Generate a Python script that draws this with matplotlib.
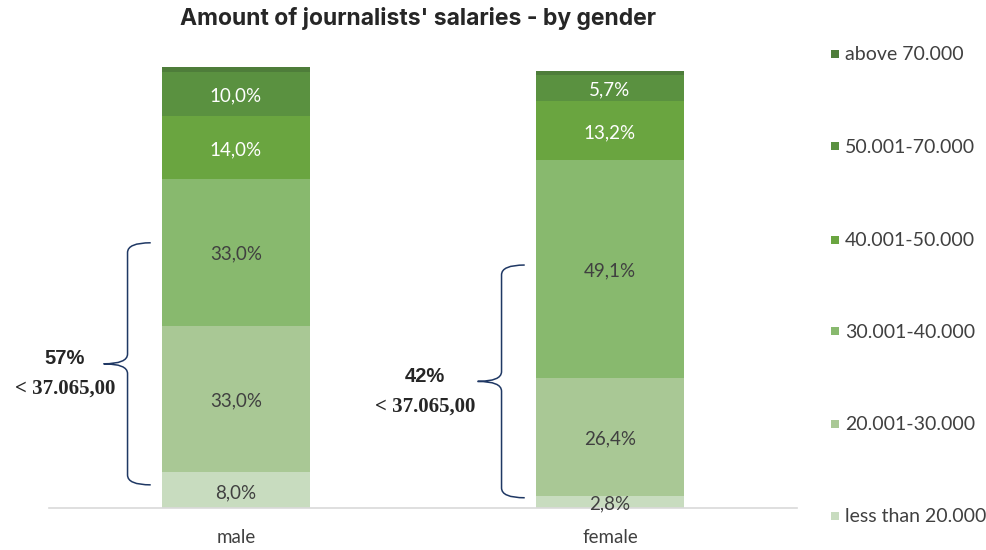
import matplotlib.pyplot as plt
from matplotlib.patches import Rectangle, PathPatch
from matplotlib.path import Path

genders = ["male", "female"]
bands = ["less than 20.000", "20.001-30.000", "30.001-40.000",
         "40.001-50.000", "50.001-70.000", "above 70.000"]
male = [8.0, 33.0, 33.0, 14.0, 10.0, 1.2]
female = [2.8, 26.4, 49.1, 13.2, 5.7, 1.0]
colors = ["#c8dcbf", "#a9c895", "#88b96e", "#6aa540", "#5a9140", "#4e7d3a"]
text_colors = ["#404040", "#404040", "#404040", "white", "white", None]

# brace annotations: (bar index, bottom, top, share text)
braces = [(0, 5.2, 59.6, "57%"), (1, 2.3, 54.6, "42%")]
threshold = "< 37.065,00"
brace_text_dx = [0.168, 0.205]

fig = plt.figure(figsize=(9.87, 5.5), dpi=100)
ax = fig.add_axes([49 / 987, 1 - 508 / 550, 748 / 987, 445 / 550])

values = [male, female]
x = [0, 1]
bottom = [0.0, 0.0]
for k, band in enumerate(bands):
    heights = [v[k] for v in values]
    ax.bar(x, heights, width=0.396, bottom=bottom, color=colors[k], linewidth=0)
    if text_colors[k]:
        for i in x:
            ax.text(i, bottom[i] + heights[i] / 2 - 0.5, f"{heights[i]:.1f}%".replace(".", ","),
                    ha="center", va="center", fontsize=13.5, family="Lato",
                    color=text_colors[k])
    bottom = [b + h for b, h in zip(bottom, heights)]

ax.set_xlim(-0.5, 1.5)
ax.set_ylim(0, 100)
ax.set_yticks([])
ax.set_xticks(x)
ax.set_xticklabels(genders, fontsize=13.5, family="Lato", color="#404040")
ax.tick_params(axis="x", length=0, pad=15)
for s in ["top", "right", "left"]:
    ax.spines[s].set_visible(False)
ax.spines["bottom"].set_color("#d9d9d9")
ax.spines["bottom"].set_linewidth(1.2)


def draw_brace(ax, xv, y0, y1, arm=0.062, tip=0.064, r=2.2):
    ym = (y0 + y1) / 2
    verts = [(xv + arm, y1), (xv, y1), (xv, y1 - r),
             (xv, ym + r),
             (xv, ym), (xv - tip, ym),
             (xv, ym), (xv, ym - r),
             (xv, y0 + r),
             (xv, y0), (xv + arm, y0)]
    codes = [Path.MOVETO, Path.CURVE3, Path.CURVE3,
             Path.LINETO,
             Path.CURVE3, Path.CURVE3,
             Path.CURVE3, Path.CURVE3,
             Path.LINETO,
             Path.CURVE3, Path.CURVE3]
    ax.add_patch(PathPatch(Path(verts, codes), fill=False, edgecolor="#1f3864",
                           linewidth=1.1, clip_on=False))
    return ym


for (i, y0, y1, share), dx in zip(braces, brace_text_dx):
    xv = i - 0.29
    ym = draw_brace(ax, xv, y0, y1)
    tx = xv - dx
    ax.text(tx, ym + 1.2, share, ha="center", va="center", fontsize=14.5,
            fontweight="bold", family="Liberation Sans", color="#262626")
    ax.text(tx, ym - 5.6, threshold, ha="center", va="center", fontsize=15,
            fontweight="bold", family="Liberation Serif", color="#262626")

fig.text(418 / 987, 1 - 19 / 550, "Amount of journalists' salaries - by gender",
         ha="center", va="center", fontsize=16.5, fontweight="bold",
         family="Inter", color="#262626")

# legend, top entry first
legend_y = [55, 147, 241, 332, 425, 517]
for k, yp in zip(range(len(bands) - 1, -1, -1), legend_y):
    fig.add_artist(Rectangle((831 / 987, 1 - (yp + 3) / 550), 8 / 987, 8 / 550,
                             transform=fig.transFigure, color=colors[k], linewidth=0))
    fig.text(845 / 987, 1 - yp / 550, bands[k], ha="left", va="center",
             fontsize=14, family="Lato", color="#404040")

fig.savefig("out.png", dpi=100)
